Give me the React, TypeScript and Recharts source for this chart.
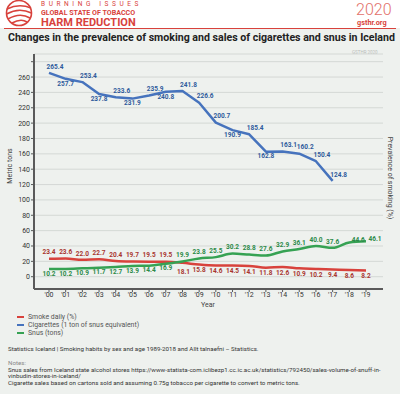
import React from "react";
import { LineChart, Line, XAxis, YAxis, CartesianGrid, LabelList } from "recharts";

const years = ["'00", "'01", "'02", "'03", "'04", "'05", "'06", "'07", "'08", "'09", "'10", "'11", "'12", "'13", "'14", "'15", "'16", "'17", "'18", "'19"];
const smokeDaily = [23.4, 23.6, 22.0, 22.7, 20.4, 19.7, 19.5, 19.5, 18.1, 15.8, 14.6, 14.5, 14.1, 11.8, 12.6, 10.9, 10.2, 9.4, 8.6, 8.2];
const cigarettes = [265.4, 257.7, 253.4, 237.8, 233.6, 231.9, 235.9, 240.8, 241.8, 226.6, 200.7, 190.9, 185.4, 162.8, 163.1, 160.2, 150.4, 124.8];
const snus = [10.2, 10.2, 10.9, 11.7, 12.7, 13.9, 14.4, 16.9, 19.9, 23.8, 25.5, 30.2, 28.8, 27.6, 32.9, 36.1, 40.0, 37.6, 44.6, 46.1];
const leftTicks = [0, 20, 40, 60, 80, 100, 120, 140, 160, 180, 200, 220, 240, 260, 280];
const rightTicks = [0, 10, 20, 30];

const RED = "#d8423c";
const BLUE = "#4673bd";
const GREEN = "#36a253";
const FONT = "Roboto, 'Open Sans', sans-serif";

const data = years.map((year, i) => ({
  year,
  smoke: smokeDaily[i],
  cig: cigarettes[i] ?? null,
  snus: snus[i],
}));

// snus overtakes daily smokers from '08 on, labels swap sides there
const CROSS = 8;
const cigBelow = new Set([1, 3, 5, 7, 11, 13]);

const valueLabel = (color: string, place: (i: number) => [number, number]) => (props: any) => {
  const { x, y, value, index } = props;
  if (value == null || x == null) return null;
  const [dx, dy] = place(index);
  return (
    <text x={x + dx} y={y + dy} fill={color} fontSize={6.5} fontWeight={700} fontFamily={FONT}
      textAnchor="middle" dominantBaseline="middle">
      {Number(value).toFixed(1)}
    </text>
  );
};

const smokePlace = (i: number): [number, number] =>
  i < CROSS ? [0, -6] : i === CROSS ? [1, 9] : [0, 6];
const snusPlace = (i: number): [number, number] =>
  i < CROSS ? [0, 5] : i >= 18 ? [9, -2] : [0, -6];
const cigPlace = (i: number): [number, number] =>
  cigBelow.has(i) ? [0, 5] : [6, -6];

const legendItems = [
  { color: RED, text: "Smoke daily (%)" },
  { color: BLUE, text: "Cigarettes (1 ton of snus equivalent)" },
  { color: GREEN, text: "Snus (tons)" },
];

const abs = (left: number, top: number, extra: React.CSSProperties = {}): React.CSSProperties => ({
  position: "absolute",
  left,
  top,
  whiteSpace: "nowrap",
  lineHeight: 1,
  ...extra,
});

const Logo = () => (
  <svg width={40} height={28} style={abs(0, 0)}>
    <g fill="none" stroke={RED} strokeWidth={1.6}>
      <circle cx={19} cy={13} r={12.5} />
      <path d="M7 9 Q19 3 31 8" />
      <path d="M6.5 14 Q19 7 31.5 13" />
      <path d="M8 19 Q20 12 30 18" />
      <path d="M12 23 Q21 18 27 22" />
    </g>
  </svg>
);

export default function App() {
  return (
    <div style={{ position: "absolute", left: 0, top: 0, width: 400, height: 394, background: "#eef1ee", fontFamily: FONT, overflow: "hidden" }}>
      <div style={{ position: "absolute", left: 0, top: 0, width: 400, height: 28, background: "#ffffff" }} />
      <div style={{ position: "absolute", left: 4, top: 28, width: 392, height: 1, background: RED }} />
      <Logo />
      <div style={abs(41, 2, { color: RED, fontSize: 6.5, letterSpacing: 3.6, lineHeight: 0.85 })}>BURNING ISSUES</div>
      <div style={abs(41, 10, { color: RED, fontSize: 7.1, fontWeight: 700, lineHeight: 0.85 })}>GLOBAL STATE OF TOBACCO</div>
      <div style={abs(41, 17.8, { color: RED, fontSize: 11, fontWeight: 700, lineHeight: 0.85 })}>HARM REDUCTION</div>
      <div style={abs(356, 2, { color: "#e2706a", fontSize: 16, fontWeight: 300 })}>2020</div>
      <div style={abs(357, 18.5, { color: RED, fontSize: 7.3, fontWeight: 700 })}>gsthr.org</div>
      <div style={abs(8, 32.5, { color: "#222", fontSize: 10.6, fontWeight: 700 })}>
        Changes in the prevalence of smoking and sales of cigarettes and snus in Iceland
      </div>
      <div style={abs(352, 51, { color: "#b9bcb9", fontSize: 4.5 })}>GSTHR 2020</div>

      <div style={abs(0, 44)}>
        <LineChart width={400} height={270} data={data} margin={{ top: 10, right: 0, left: 0, bottom: 0 }}>
          <CartesianGrid horizontal vertical={false} stroke="#d4d8d5" strokeWidth={1} yAxisId="left" />
          <XAxis
            dataKey="year"
            interval={0}
            padding={{ left: 15, right: 17 }}
            height={25}
            tickSize={3}
            tickMargin={0}
            axisLine={{ stroke: "#5a5a5a", strokeWidth: 2 }}
            tickLine={{ stroke: "#5a5a5a" }}
            tick={{ fontSize: 7, fill: "#333", fontFamily: FONT }}
          />
          <YAxis
            yAxisId="left"
            width={34}
            domain={[-16, 290]}
            ticks={leftTicks}
            interval={0}
            tickSize={3}
            tickMargin={1}
            tickFormatter={(v: number) => (v === 280 ? "" : String(v))}
            axisLine={{ stroke: "#5a5a5a", strokeWidth: 2 }}
            tickLine={{ stroke: "#5a5a5a" }}
            tick={{ fontSize: 7, fill: "#333", fontFamily: FONT }}
            label={{
              content: ({ viewBox }: any) => (
                <text x={viewBox.x + 12} y={viewBox.y + 112} fontSize={7} fill="#444" fontFamily={FONT}
                  textAnchor="middle" transform={`rotate(-90 ${viewBox.x + 12} ${viewBox.y + 112})`}>
                  Metric tons
                </text>
              ),
            }}
          />
          <YAxis
            yAxisId="right"
            orientation="right"
            width={17}
            domain={[-16, 290]}
            ticks={rightTicks}
            interval={0}
            tickSize={4}
            tickMargin={3}
            axisLine={false}
            tickLine={false}
            tick={{ fontSize: 7, fill: "#333", fontFamily: FONT }}
            label={{
              content: ({ viewBox }: any) => (
                <text x={viewBox.x + 5} y={viewBox.y + 124} fontSize={7} fill="#444" fontFamily={FONT}
                  textAnchor="middle" transform={`rotate(90 ${viewBox.x + 5} ${viewBox.y + 124})`}>
                  Prevalence of smoking (%)
                </text>
              ),
            }}
          />
          <Line yAxisId="left" type="linear" dataKey="cig" stroke={BLUE} strokeWidth={2.5} dot={false}
            isAnimationActive={false} connectNulls={false} strokeLinejoin="round">
            <LabelList dataKey="cig" content={valueLabel("#2f5b9c", cigPlace)} />
          </Line>
          <Line yAxisId="left" type="monotone" dataKey="smoke" stroke={RED} strokeWidth={2.5} dot={false}
            isAnimationActive={false}>
            <LabelList dataKey="smoke" content={valueLabel("#a8352f", smokePlace)} />
          </Line>
          <Line yAxisId="left" type="monotone" dataKey="snus" stroke={GREEN} strokeWidth={2.5} dot={false}
            isAnimationActive={false}>
            <LabelList dataKey="snus" content={valueLabel("#2b8a48", snusPlace)} />
          </Line>
        </LineChart>
      </div>

      <div style={abs(201, 302, { color: "#444", fontSize: 7 })}>Year</div>

      {legendItems.map((item, i) => (
        <div key={item.text} style={abs(17, 313.5 + i * 8, { display: "flex", alignItems: "center", fontSize: 6.9, color: "#555" })}>
          <span style={{ display: "inline-block", width: 7, height: 2.5, background: item.color, marginRight: 4 }} />
          {item.text}
        </div>
      ))}

      <div style={abs(8, 345.5, { color: "#333", fontSize: 6.2 })}>
        Statistics Iceland | Smoking habits by sex and age 1989-2018 and Allt talnaefni – Statistics.
      </div>
      <div style={abs(8, 360, { color: "#888", fontSize: 6.2 })}>Notes:</div>
      <div style={abs(8, 366.5, { color: "#333", fontSize: 6.2 })}>
        Snus sales from Iceland state alcohol stores https://www-statista-com.iclibezp1.cc.ic.ac.uk/statistics/792450/sales-volume-of-snuff-in-
      </div>
      <div style={abs(8, 373, { color: "#333", fontSize: 6.2 })}>vinbudin-stores-in-iceland/</div>
      <div style={abs(8, 379.5, { color: "#333", fontSize: 6.2 })}>
        Cigarette sales based on cartons sold and assuming 0.75g tobacco per cigarette to convert to metric tons.
      </div>
    </div>
  );
}
